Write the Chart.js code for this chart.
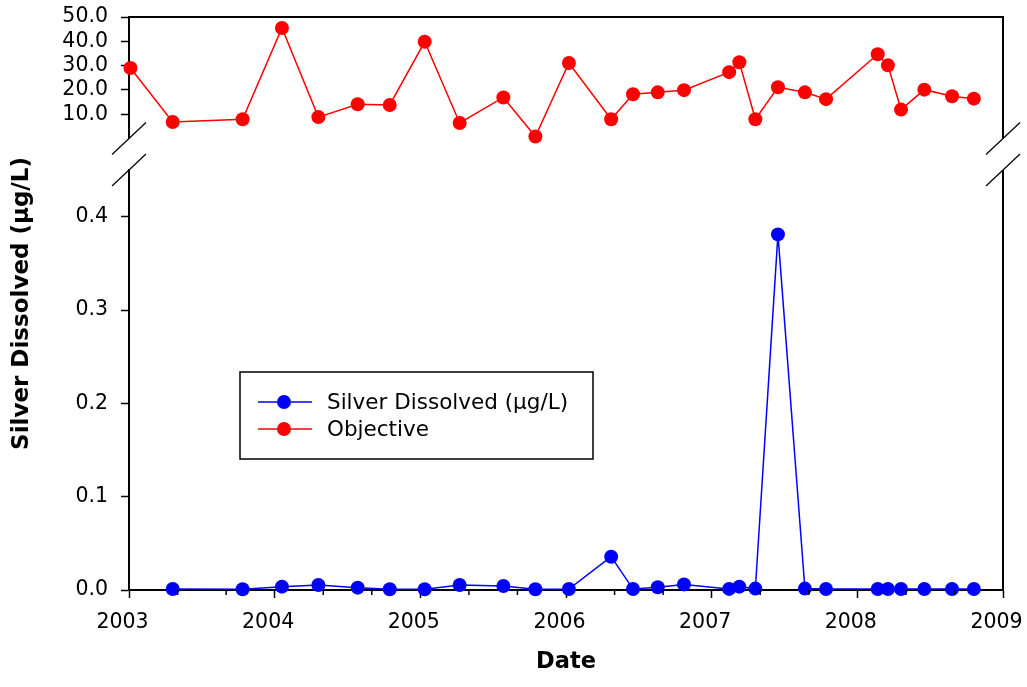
<!DOCTYPE html>
<html>
<head>
<meta charset="utf-8">
<script src="https://cdn.jsdelivr.net/npm/chart.js@4.4.1/dist/chart.umd.min.js"></script>
<style>
  html, body { margin: 0; padding: 0; background: #fff; }
  #chart { display: block; }
</style>
</head>
<body>
<canvas id="chart" width="1027" height="687"></canvas>
<script>
// sample dates, as decimal years
var sampleDates = [2003.01, 2003.30, 2003.78, 2004.05, 2004.30, 2004.57, 2004.79, 2005.03,
                   2005.27, 2005.57, 2005.79, 2006.02, 2006.31, 2006.46, 2006.63, 2006.81,
                   2007.12, 2007.19, 2007.30, 2007.455, 2007.64, 2007.785, 2008.14, 2008.21,
                   2008.30, 2008.46, 2008.65, 2008.80];

var silverValues = [null, 0.001, 0.0008, 0.0036, 0.0054, 0.0025, 0.0008, 0.0008,
                    0.0054, 0.0043, 0.0008, 0.001, 0.0357, 0.001, 0.003, 0.006,
                    0.0012, 0.0036, 0.0015, 0.381, 0.0015, 0.001, 0.001, 0.001,
                    0.001, 0.001, 0.001, 0.001];

var objectiveValues = [29.0, 6.8, 7.9, 45.5, 8.8, 14.1, 13.8, 39.8,
                       6.4, 16.9, 0.8, 31.1, 7.9, 18.2, 19.0, 19.9,
                       27.3, 31.4, 7.9, 21.1, 19.0, 16.2, 34.7, 30.1,
                       11.9, 20.1, 17.4, 16.4];

var yearTicks = [2003, 2004, 2005, 2006, 2007, 2008, 2009];
var topTicks = [10, 20, 30, 40, 50];
var bottomTicks = [0, 0.1, 0.2, 0.3, 0.4];

var silverLabel = 'Silver Dissolved (\u00b5g/L)';
var objectiveLabel = 'Objective';

Chart.defaults.color = '#000';
Chart.defaults.font.family = 'DejaVu Sans';

function toPoints(values) {
    return sampleDates.map(function (d, i) { return { x: d, y: values[i] }; });
}

function fixedTicks(list) {
    return function (scale) {
        scale.ticks = list.map(function (v) { return { value: v }; });
    };
}

function valueAxis(min, max, weight, list) {
    return {
        type: 'linear',
        position: 'left',
        stack: 'left',
        stackWeight: weight,
        min: min,
        max: max,
        afterBuildTicks: fixedTicks(list),
        afterFit: function (s) { s.width = 89; s.paddingTop = 0; s.paddingBottom = 0; },
        ticks: {
            font: { size: 20.5 },
            padding: 13,
            autoSkip: false,
            callback: function (v) { return Number(v).toFixed(1); }
        },
        grid: { drawOnChartArea: false, tickLength: 8, tickWidth: 1.5, tickColor: '#000' },
        border: { color: '#000', width: 2 }
    };
}

// frame pieces, axis breaks, minor date ticks and the legend box
var decorations = {
    id: 'decorations',
    afterDraw: function (chart) {
        var ctx = chart.ctx;
        var a = chart.chartArea;
        var top = chart.scales.yTop;
        var bot = chart.scales.yBottom;
        var x = chart.scales.x;

        ctx.save();
        ctx.strokeStyle = '#000';
        ctx.lineWidth = 2;
        ctx.beginPath();
        ctx.moveTo(a.left, top.top);
        ctx.lineTo(a.right, top.top);
        ctx.lineTo(a.right, top.bottom);
        ctx.moveTo(a.right, bot.top);
        ctx.lineTo(a.right, bot.bottom);
        ctx.stroke();

        ctx.lineWidth = 1.2;
        ctx.beginPath();
        [a.left, a.right].forEach(function (bx) {
            [top.bottom, bot.top].forEach(function (by) {
                ctx.moveTo(bx - 17, by + 16);
                ctx.lineTo(bx + 17, by - 16);
            });
        });
        ctx.stroke();

        ctx.lineWidth = 1.5;
        ctx.beginPath();
        for (var k = 1; k < (x.max - x.min) * 3; k++) {
            if (k % 3 === 0) continue;
            var px = x.getPixelForValue(x.min + k / 3);
            ctx.moveTo(px, x.top);
            ctx.lineTo(px, x.top + 5);
        }
        ctx.stroke();

        // legend
        ctx.fillStyle = '#fff';
        ctx.fillRect(240, 372, 353, 87);
        ctx.lineWidth = 1.5;
        ctx.strokeRect(240, 372, 353, 87);
        ctx.font = '21.5px "DejaVu Sans"';
        ctx.textBaseline = 'middle';
        chart.data.datasets.forEach(function (ds, i) {
            var cy = 402 + i * 27;
            ctx.strokeStyle = ds.borderColor;
            ctx.lineWidth = 1.5;
            ctx.beginPath();
            ctx.moveTo(258, cy);
            ctx.lineTo(312, cy);
            ctx.stroke();
            ctx.fillStyle = ds.backgroundColor;
            ctx.beginPath();
            ctx.arc(284, cy, 7, 0, Math.PI * 2);
            ctx.fill();
            ctx.fillStyle = '#000';
            ctx.fillText(ds.label, 327, cy + 1);
        });
        ctx.restore();
    }
};

var data = {
    datasets: [{
        label: silverLabel,
        data: toPoints(silverValues),
        yAxisID: 'yBottom',
        borderColor: '#0000ff',
        backgroundColor: '#0000ff',
        borderWidth: 1.5,
        pointRadius: 7,
        pointHoverRadius: 7,
        pointBorderWidth: 0,
        clip: false
    }, {
        label: objectiveLabel,
        data: toPoints(objectiveValues),
        yAxisID: 'yTop',
        borderColor: '#ff0000',
        backgroundColor: '#ff0000',
        borderWidth: 1.5,
        pointRadius: 7,
        pointHoverRadius: 7,
        pointBorderWidth: 0,
        clip: false
    }]
};

var config = {
    type: 'line',
    data: data,
    plugins: [decorations],
    options: {
        responsive: false,
        animation: false,
        devicePixelRatio: 1,
        layout: { padding: { top: 17, right: 24, bottom: 0, left: 0 } },
        plugins: {
            legend: { display: false },
            tooltip: { enabled: false }
        },
        scales: {
            x: {
                type: 'linear',
                position: 'bottom',
                min: 2003,
                max: 2009,
                afterBuildTicks: fixedTicks(yearTicks),
                afterFit: function (s) { s.height = 97; s.paddingLeft = 0; s.paddingRight = 0; },
                ticks: {
                    font: { size: 20.5 },
                    padding: 12,
                    maxRotation: 0,
                    autoSkip: false,
                    callback: function (v) { return v + '  '; }
                },
                grid: { drawOnChartArea: false, tickLength: 8, tickWidth: 1.5, tickColor: '#000' },
                border: { color: '#000', width: 2 },
                title: {
                    display: true,
                    text: 'Date',
                    font: { size: 22.5, weight: 'bold' },
                    padding: { top: 0, bottom: 11 }
                }
            },
            yBottom: valueAxis(0, 0.45, 420, bottomTicks),
            yGap: {
                type: 'linear',
                position: 'left',
                stack: 'left',
                stackWeight: 31.5,
                afterFit: function (s) { s.width = 89; s.paddingTop = 0; s.paddingBottom = 0; },
                ticks: { display: false },
                grid: { display: false },
                border: { display: false }
            },
            yTop: valueAxis(0, 50, 121.5, topTicks),
            yTitle: {
                type: 'linear',
                position: 'left',
                weight: 1,
                afterFit: function (s) { s.width = 40; s.paddingTop = 0; s.paddingBottom = 0; },
                ticks: { display: false },
                grid: { display: false },
                border: { display: false },
                title: {
                    display: true,
                    text: silverLabel,
                    font: { size: 23, weight: 'bold' },
                    padding: { top: 8, bottom: 0 }
                }
            }
        }
    }
};

var myChart = new Chart(document.getElementById('chart'), config);
</script>
</body>
</html>
